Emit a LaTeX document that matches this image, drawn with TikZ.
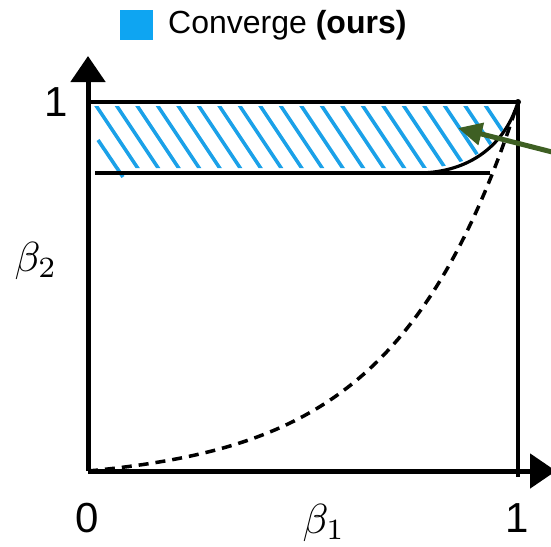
\documentclass[tikz,border=0pt]{standalone}
\usepackage{fontspec}
\setmainfont{Liberation Sans}
\usetikzlibrary{arrows.meta}
\definecolor{hatchblue}{HTML}{1BA1E8}
\definecolor{legblue}{HTML}{0EA5F2}
\definecolor{arrgreen}{HTML}{3E5F23}
\tikzset{
  axisline/.style={line width=5pt, black, -{Triangle[length=26pt,width=34pt]}},
  boxline/.style={line width=3.8pt, black},
  hatchline/.style={line width=3.6pt, hatchblue},
  lbl/.style={inner sep=0pt, font=\fontsize{10}{12}\selectfont, scale=4.2},
  legtext/.style={inner sep=0pt, font=\fontsize{32}{36}\selectfont},
}
\begin{document}
\begin{tikzpicture}[x=1pt,y=-1pt]
\useasboundingbox (0,0) rectangle (551,546);
% legend
\node[fill=legblue, minimum width=33pt, minimum height=30pt, inner sep=0pt] (legsq) at (136,25) {};
\node[legtext, anchor=west] (legtxt) at (168,25) {Converge \textbf{(ours)}};
% coordinates
\coordinate (O) at (88,471);
\coordinate (ytip) at (88,56);
\coordinate (xtip) at (556,471);
\coordinate (TL) at (88,102);
\coordinate (TR) at (518,102);
\coordinate (BR) at (518,477);
\coordinate (LL) at (95,173);
\coordinate (LR) at (490,173);
\coordinate (CE) at (420,173);
% hatching
\begin{scope}
\clip (92,106) -- (514,106) .. controls (502,145) and (470,168) .. (420,168) -- (92,168) -- cycle;
\foreach \i in {0,...,19} {
  \draw[hatchline] ({95+20.5*\i},104) -- ({139+20.5*\i},170);
}
\end{scope}
\draw[hatchline] (98,140) -- (123,177);
% box lines
\draw[boxline] (TL) -- (TR);
\draw[boxline] (LL) -- (LR);
\draw[boxline] (TR) -- (BR);
\fill (TR) circle (3pt);
% solid curve
\draw[line width=3.2pt] (TR) .. controls (505,145) and (470,172) .. (CE);
% dashed curve
\draw[line width=3.5pt, dash pattern=on 10pt off 7pt] plot[domain=0:1, samples=80, smooth] ({88+430*\x},{471-369*(exp(3.5*\x)-1)/(exp(3.5)-1)});
% axes
\draw[axisline] (O) -- (ytip);
\draw[axisline] (O) -- (xtip);
% green arrow
\coordinate (gtail) at (556,153);
\coordinate (gtip) at (458,128);
\draw[arrgreen, line width=5pt, -{Triangle[length=24pt,width=22pt]}] (gtail) -- (gtip);
% labels
\node[lbl] (one y) at (56,102) {1};
\node[lbl] (zero) at (87,518) {0};
\node[lbl] (one x) at (517,518) {1};
\node[lbl, anchor=base] (b1) at (324,533) {$\beta_1$};
\node[lbl, anchor=base] (b2) at (36,271) {$\beta_2$};
\end{tikzpicture}
\end{document}
